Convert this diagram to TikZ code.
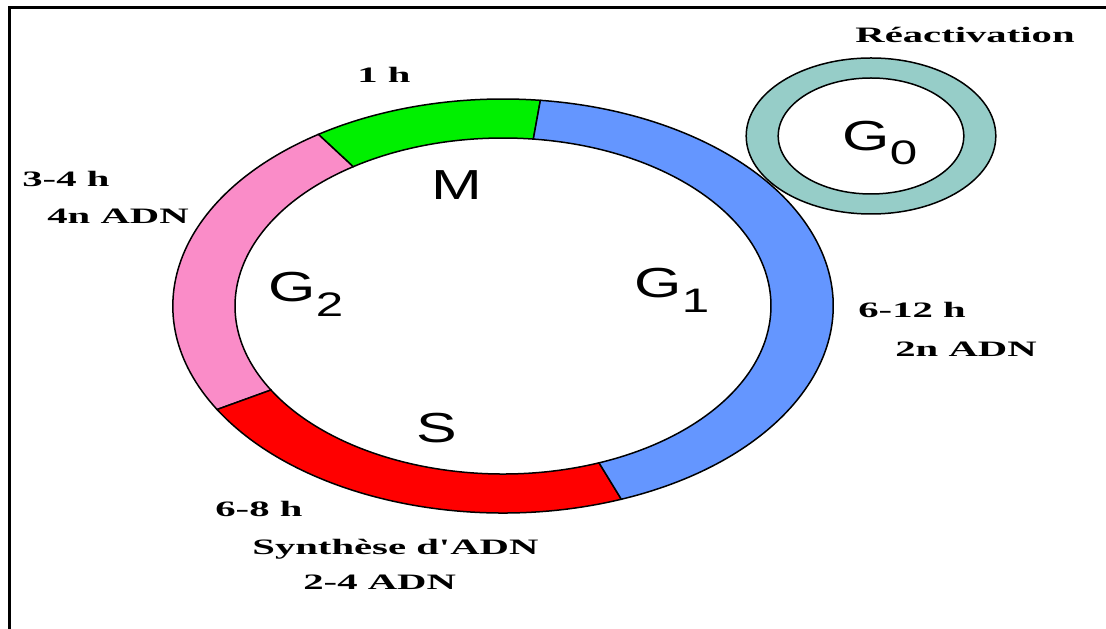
\documentclass[tikz,border=0pt]{standalone}
\usepackage{fontspec}
\setmainfont{Liberation Serif}
\setsansfont{Liberation Sans}
\definecolor{mgreen}{RGB}{0,240,0}
\definecolor{mpink}{RGB}{250,140,200}
\definecolor{mred}{RGB}{255,0,0}
\definecolor{mblue}{RGB}{100,150,255}
\definecolor{mteal}{RGB}{150,205,200}
\newcommand{\phsub}[1]{\raisebox{-0.35em}{\fontsize{34}{34}\selectfont #1}}
\tikzset{
  dur/.style={font=\bfseries\fontsize{22}{26}\selectfont, inner sep=0pt, anchor=base west, xscale=1.85},
  phase/.style={font=\sffamily\fontsize{42}{42}\selectfont, inner sep=0pt, xscale=1.45}
}

\begin{document}
\begin{tikzpicture}[x=1pt,y=1pt]
 \useasboundingbox (0,0) rectangle (1106,629);
 % frame
 \draw[line width=3pt] (9.5,0) |- (1106,621.5);
 % G0 ring
 \begin{scope}[shift={(871,493)}, xscale=1.6]
  \filldraw[fill=mteal, even odd rule, line width=1.5pt] (0,0) circle[radius=78] (0,0) circle[radius=58];
 \end{scope}
 % cell cycle ring
 \begin{scope}[shift={(503,323)}, xscale=1.595]
  \foreach \a/\b/\c in {83.5/124/mgreen, 124/210/mpink, 210/291/mred, 291/443.5/mblue}
   \filldraw[fill=\c, line width=1.5pt] (\a:207) arc[start angle=\a, end angle=\b, radius=207]
     -- (\b:168) arc[start angle=\b, end angle=\a, radius=168] -- cycle;
 \end{scope}
 % phases
 \node[phase] (m)  at (457,444) {M};
 \node[phase] (s)  at (437,201) {S};
 \node[phase] (g2) at (306,335) {G\phsub{2}};
 \node[phase] (g1) at (672,339) {G\phsub{1}};
 \node[phase] (g0) at (880,486) {G\phsub{0}};
 % durations
 \node[dur] (react) at (855,586) {Réactivation};
 \node[dur] (tm)    at (357,546) {1 h};
 \node[dur] (tg2)   at (22,442)  {3-4 h};
 \node[dur] (dg2)   at (47,405)  {4n ADN};
 \node[dur] (tg1)   at (858,311) {6-12 h};
 \node[dur] (dg1)   at (895,272) {2n ADN};
 \node[dur] (ts)    at (215,112) {6-8 h};
 \node[dur] (syn)   at (252,74)  {Synthèse d\textquotesingle ADN};
 \node[dur] (ds)    at (303,39)  {2-4 ADN};
\end{tikzpicture}
\end{document}
